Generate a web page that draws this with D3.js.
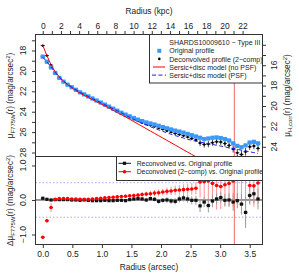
<!DOCTYPE html>
<html><head><meta charset="utf-8">
<script src="https://cdn.jsdelivr.net/npm/d3@7"></script>
<style>
body{margin:0;background:#fff}
svg{display:block}
text{font-family:"Liberation Sans",Arial,Helvetica,sans-serif;fill:#222}
</style>
</head><body>
<svg id="c" width="299" height="280"></svg>
<script>
// ---------------- data ----------------
const radius = [0.00,0.07,0.14,0.21,0.28,0.35,0.42,0.49,0.56,0.63,0.70,0.77,0.84,0.91,0.98,1.05,1.12,1.19,1.26,1.33,1.40,1.47,1.54,1.61,1.68,1.75,1.82,1.89,1.96,2.03,2.10,2.17,2.24,2.31,2.38,2.45,2.52,2.59,2.66,2.73,2.80,2.87,2.94,3.01,3.08,3.15,3.22,3.29,3.36,3.43,3.50,3.57,3.64];
const muOriginal = [18.60,19.10,19.65,20.20,20.68,21.05,21.35,21.60,21.85,22.10,22.30,22.50,22.70,22.90,23.10,23.30,23.50,23.70,23.90,24.10,24.28,24.45,24.62,24.78,24.92,25.05,25.15,25.25,25.38,25.50,25.62,25.74,25.85,25.95,26.05,26.18,26.30,26.43,26.55,26.68,26.62,26.55,26.52,26.58,26.68,26.82,27.10,27.35,27.48,27.30,27.02,26.95,27.10];
const errOriginal = [0.02,0.02,0.02,0.02,0.02,0.02,0.02,0.02,0.02,0.02,0.02,0.02,0.02,0.02,0.02,0.02,0.02,0.02,0.02,0.02,0.03,0.03,0.03,0.03,0.03,0.04,0.04,0.04,0.04,0.04,0.05,0.05,0.05,0.05,0.05,0.05,0.06,0.06,0.06,0.06,0.06,0.06,0.07,0.07,0.07,0.07,0.08,0.08,0.08,0.08,0.08,0.08,0.08];
const muDeconvolved = [17.52,18.50,19.43,20.22,20.72,21.09,21.39,21.63,21.88,22.12,22.32,22.52,22.73,22.94,23.15,23.36,23.57,23.78,23.99,24.20,24.39,24.57,24.75,24.92,25.08,25.22,25.33,25.45,25.59,25.73,25.87,26.00,26.13,26.24,26.35,26.49,26.62,26.77,27.07,27.21,27.17,27.03,26.94,26.97,27.12,27.30,27.65,28.03,28.20,27.92,27.44,27.36,27.59];
const errDeconvolved = [0.08,0.08,0.08,0.05,0.05,0.05,0.05,0.05,0.05,0.05,0.05,0.05,0.05,0.05,0.05,0.05,0.05,0.05,0.05,0.05,0.06,0.06,0.06,0.06,0.07,0.07,0.07,0.08,0.08,0.09,0.09,0.10,0.10,0.11,0.12,0.12,0.13,0.14,0.30,0.30,0.32,0.30,0.28,0.28,0.30,0.32,0.35,0.38,0.40,0.38,0.30,0.32,0.32];
const modelNoPSF = [17.50,18.50,19.40,20.10,20.60,21.00,21.35,21.65,21.92,22.17,22.40,22.61,22.82,23.02,23.22,23.43,23.64,23.86,24.08,24.30,24.52,24.74,24.97,25.20,25.43,25.66,25.89,26.12,26.35,26.58,26.81,27.04,27.27,27.50,27.73,27.96,28.19,28.42,28.65,28.88,29.11];
const modelPSF = [18.65,19.10,19.62,20.15,20.62,21.00,21.31,21.58,21.84,22.08,22.30,22.50,22.71,22.91,23.11,23.31,23.51,23.71,23.91,24.11,24.33,24.55,24.75,24.95,25.13,25.30,25.47,25.63,25.78,25.93,26.07,26.21,26.34,26.46,26.58,26.70,26.80,26.89,26.97,27.05,27.13,27.21,27.29,27.37,27.45,27.53,27.61,27.69,27.77,27.85,27.93,28.01,28.09];
const dReconvolved = [0.05,0.02,0.00,0.01,0.01,0.01,0.01,0.00,0.00,-0.01,0.00,-0.01,-0.02,-0.02,-0.02,-0.01,-0.02,-0.02,-0.01,-0.01,-0.02,0.01,0.03,0.04,0.03,0.00,0.04,0.02,-0.04,-0.01,0.00,-0.03,-0.04,0.03,0.06,0.03,-0.01,-0.01,-0.17,-0.06,-0.16,-0.03,0.03,0.07,-0.01,0.00,-0.06,-0.02,-0.12,-0.36,0.13,0.18,0.03];
const errReconvolved = [0.02,0.02,0.02,0.02,0.02,0.02,0.02,0.02,0.02,0.02,0.02,0.02,0.02,0.02,0.02,0.03,0.03,0.03,0.03,0.03,0.04,0.04,0.04,0.05,0.05,0.05,0.06,0.06,0.07,0.07,0.08,0.08,0.09,0.10,0.10,0.11,0.12,0.13,0.18,0.15,0.20,0.18,0.16,0.15,0.18,0.20,0.25,0.22,0.30,0.45,0.25,0.28,0.30];
const dDeconvolved = [-1.08,-0.60,-0.22,0.02,0.04,0.04,0.04,0.03,0.03,0.02,0.02,0.02,0.03,0.04,0.05,0.06,0.07,0.08,0.09,0.10,0.11,0.12,0.13,0.14,0.16,0.17,0.18,0.20,0.21,0.23,0.25,0.26,0.28,0.29,0.30,0.31,0.32,0.34,0.52,0.53,0.55,0.48,0.42,0.39,0.44,0.48,0.55,0.68,0.72,0.62,0.42,0.41,0.49];
const errDDeconvolved = [0.03,0.05,0.13,0.03,0.03,0.03,0.03,0.03,0.03,0.03,0.03,0.03,0.03,0.03,0.03,0.03,0.04,0.04,0.04,0.05,0.05,0.05,0.06,0.06,0.07,0.07,0.08,0.09,0.10,0.10,0.11,0.12,0.13,0.14,0.15,0.16,0.17,0.18,0.45,0.55,0.60,0.65,0.70,0.65,0.60,0.65,0.75,0.80,0.80,0.75,0.55,0.60,0.60];
const radiusErr = 0.035;
const markerRadius = 3.24;
const kpcPerArcsec = 6.51;
const hOffset = 3.44;

const kpcTicks = [0,1,2,3,4,5,6,7,8,9,10,11,12,13,14,15,16,17,18,19,20,21,22];
const kpcLabels = [0,2,4,6,8,10,12,14,16,18,20,22];
const muTicks = [17,18,19,20,21,22,23,24,25,26,27,28];
const muLabels = [18,20,22,24,26,28];
const muHTicks = [14,15,16,17,18,19,20,21,22,23,24];
const muHLabels = [16,18,20,22,24];
const arcTicks = [0,0.5,1,1.5,2,2.5,3,3.5];
const dTicks = [-1,0,1];
const legendTopTitle = "SHARDS10009610 \u2212 Type III";
const legendTop = ["Original profile","Deconvolved profile (2\u2212comp)","Sersic+disc model (no PSF)","Sersic+disc model (PSF)"];
const legendBottom = ["Reconvolved vs. Original profile","Deconvolved (2\u2212comp) vs. Original profile"];

// ---------------- layout ----------------
const L=35.5, R=262.5, T=34.5, M=156.5, B=244.5;
const svg = d3.select("#c");
const x = d3.scaleLinear().domain([-0.123,3.716]).range([L,R]);
const xk = d3.scaleLinear().domain([-0.123*kpcPerArcsec,3.716*kpcPerArcsec]).range([L,R]);
const yT = d3.scaleLinear().domain([16.43,28.39]).range([T,M]);
const yR = d3.scaleLinear().domain([16.43-hOffset,28.39-hOffset]).range([T,M]);
const yB = d3.scaleLinear().domain([-1.29,1.26]).range([B,M]);
const fmt1 = d => d.toFixed(1).replace("-","\u2212");

const defs = svg.append("defs");
defs.append("clipPath").attr("id","ct").append("rect").attr("x",L).attr("y",T).attr("width",R-L).attr("height",M-T);
defs.append("clipPath").attr("id","cb").append("rect").attr("x",L).attr("y",M).attr("width",R-L).attr("height",B-M);

const idx = d3.range(radius.length);
const BLUE = "#3a98f8", BLUE_ERR = "#93c8ff";

// ---------------- top panel ----------------
const gt = svg.append("g").attr("clip-path","url(#ct)");
gt.append("line").attr("x1",x(markerRadius)).attr("x2",x(markerRadius)).attr("y1",T).attr("y2",M)
  .attr("stroke","#f26a6a").attr("stroke-width",1);
// deconvolved (black)
gt.append("g").selectAll("line").data(idx).join("line")
  .attr("x1",i=>x(radius[i])).attr("x2",i=>x(radius[i]))
  .attr("y1",i=>yT(muDeconvolved[i]-errDeconvolved[i])).attr("y2",i=>yT(muDeconvolved[i]+errDeconvolved[i]))
  .attr("stroke","#111").attr("stroke-width",0.8);
gt.append("g").selectAll("line").data(idx).join("line")
  .attr("x1",i=>x(radius[i]-radiusErr)).attr("x2",i=>x(radius[i]+radiusErr))
  .attr("y1",i=>yT(muDeconvolved[i])).attr("y2",i=>yT(muDeconvolved[i]))
  .attr("stroke","#111").attr("stroke-width",0.8);
gt.append("g").selectAll("circle").data(idx).join("circle")
  .attr("cx",i=>x(radius[i])).attr("cy",i=>yT(muDeconvolved[i])).attr("r",1.2).attr("fill","#000");
// original (blue)
gt.append("g").selectAll("line").data(idx).join("line")
  .attr("x1",i=>x(radius[i]-radiusErr-0.01)).attr("x2",i=>x(radius[i]+radiusErr+0.01))
  .attr("y1",i=>yT(muOriginal[i])).attr("y2",i=>yT(muOriginal[i]))
  .attr("stroke",BLUE_ERR).attr("stroke-width",1.6);
gt.append("g").selectAll("line").data(idx).join("line")
  .attr("x1",i=>x(radius[i])).attr("x2",i=>x(radius[i]))
  .attr("y1",i=>yT(muOriginal[i]-errOriginal[i])).attr("y2",i=>yT(muOriginal[i]+errOriginal[i]))
  .attr("stroke",BLUE_ERR).attr("stroke-width",1);
gt.append("g").selectAll("rect").data(idx).join("rect")
  .attr("x",i=>x(radius[i])-2.1).attr("y",i=>yT(muOriginal[i])-2.1).attr("width",4.2).attr("height",4.2)
  .attr("fill",BLUE);
// models
const lineM = d3.line().x((d,i)=>x(radius[i])).y(d=>yT(d));
gt.append("path").attr("d",lineM(modelNoPSF)).attr("fill","none").attr("stroke","#ff0000").attr("stroke-width",1);
gt.append("path").attr("d",lineM(modelPSF)).attr("fill","none").attr("stroke","#1f1fee").attr("stroke-width",1)
  .attr("stroke-dasharray","4,2.5");

// top legend
const lg = svg.append("g");
lg.append("rect").attr("x",149.5).attr("y",T).attr("width",R-149.5).attr("height",83-T).attr("fill","#fff").attr("stroke","#333").attr("stroke-width",1);
const lgx = 169.3, lgy0 = 45.3, lgdy = 8.1, lgfs = 7.0;
lg.append("text").attr("x",lgx).attr("y",lgy0).attr("font-size",lgfs).text(legendTopTitle);
legendTop.forEach((t,i)=>{
  lg.append("text").attr("x",lgx).attr("y",lgy0+(i+1)*lgdy).attr("font-size",lgfs).text(t);
});
const sy = i => lgy0+(i+1)*lgdy-2.6;
lg.append("rect").attr("x",159.3-2).attr("y",sy(0)-2).attr("width",4).attr("height",4).attr("fill",BLUE);
lg.append("circle").attr("cx",159.3).attr("cy",sy(1)).attr("r",1.3).attr("fill","#000");
lg.append("line").attr("x1",153).attr("x2",165).attr("y1",sy(2)).attr("y2",sy(2)).attr("stroke","#ff0000");
lg.append("line").attr("x1",152).attr("x2",166).attr("y1",sy(3)).attr("y2",sy(3)).attr("stroke","#1f1fee").attr("stroke-dasharray","4,2.5");

// ---------------- bottom panel ----------------
const gb = svg.append("g").attr("clip-path","url(#cb)");
[-0.5,0.5].forEach(v=>{
  gb.append("line").attr("x1",L).attr("x2",R).attr("y1",yB(v)).attr("y2",yB(v))
    .attr("stroke","#a8a8ff").attr("stroke-dasharray","1.5,2").attr("stroke-width",1);
});
gb.append("line").attr("x1",L).attr("x2",R).attr("y1",yB(0)).attr("y2",yB(0)).attr("stroke","#333").attr("stroke-width",1);
gb.append("line").attr("x1",x(markerRadius)).attr("x2",x(markerRadius)).attr("y1",M).attr("y2",B)
  .attr("stroke","#f26a6a").attr("stroke-width",1);
gb.append("g").selectAll("line").data(idx).join("line")
  .attr("x1",i=>x(radius[i])).attr("x2",i=>x(radius[i]))
  .attr("y1",i=>yB(dDeconvolved[i]-errDDeconvolved[i])).attr("y2",i=>yB(dDeconvolved[i]+errDDeconvolved[i]))
  .attr("stroke","#ff9090").attr("stroke-width",1);
gb.append("g").selectAll("line").data(idx).join("line")
  .attr("x1",i=>x(radius[i])).attr("x2",i=>x(radius[i]))
  .attr("y1",i=>yB(dReconvolved[i]-errReconvolved[i])).attr("y2",i=>yB(dReconvolved[i]+errReconvolved[i]))
  .attr("stroke","#9a9a9a").attr("stroke-width",1);
gb.append("g").selectAll("line").data(idx).join("line")
  .attr("x1",i=>x(radius[i]-radiusErr)).attr("x2",i=>x(radius[i]+radiusErr))
  .attr("y1",i=>yB(dReconvolved[i])).attr("y2",i=>yB(dReconvolved[i]))
  .attr("stroke","#666").attr("stroke-width",0.8);
gb.append("g").selectAll("rect").data(idx).join("rect")
  .attr("x",i=>x(radius[i])-1.6).attr("y",i=>yB(dReconvolved[i])-1.6).attr("width",3.2).attr("height",3.2).attr("fill","#111");
gb.append("g").selectAll("line").data(idx).join("line")
  .attr("x1",i=>x(radius[i]-radiusErr)).attr("x2",i=>x(radius[i]+radiusErr))
  .attr("y1",i=>yB(dDeconvolved[i])).attr("y2",i=>yB(dDeconvolved[i]))
  .attr("stroke","#ff5050").attr("stroke-width",0.8);
gb.append("g").selectAll("circle").data(idx).join("circle")
  .attr("cx",i=>x(radius[i])).attr("cy",i=>yB(dDeconvolved[i])).attr("r",1.8).attr("fill","#ff0000");

// bottom legend
const lb = svg.append("g");
lb.append("rect").attr("x",116.5).attr("y",M).attr("width",R-116.5).attr("height",180.5-M).attr("fill","#fff").attr("stroke","#333").attr("stroke-width",1);
const lbx = 136.7, lby0 = 165.8, lbdy = 8.4, lbfs = 6.8;
legendBottom.forEach((t,i)=>{
  lb.append("text").attr("x",lbx).attr("y",lby0+i*lbdy).attr("font-size",lbfs).text(t);
});
const by = i => lby0+i*lbdy-2.5;
lb.append("line").attr("x1",118.5).attr("x2",131).attr("y1",by(0)).attr("y2",by(0)).attr("stroke","#111");
lb.append("rect").attr("x",124.5-1.6).attr("y",by(0)-1.6).attr("width",3.2).attr("height",3.2).attr("fill","#111");
lb.append("line").attr("x1",118.5).attr("x2",131).attr("y1",by(1)).attr("y2",by(1)).attr("stroke","#ff0000");
lb.append("circle").attr("cx",124.5).attr("cy",by(1)).attr("r",1.8).attr("fill","#ff0000");

// ---------------- boxes ----------------
svg.append("rect").attr("x",L).attr("y",T).attr("width",R-L).attr("height",M-T).attr("fill","none").attr("stroke","#333");
svg.append("rect").attr("x",L).attr("y",M).attr("width",R-L).attr("height",B-M).attr("fill","none").attr("stroke","#333");

// ---------------- axes ----------------
function styleAxis(g){
  g.select(".domain").remove();
  g.selectAll(".tick line").attr("stroke","#333");
  g.selectAll(".tick text").attr("fill","#222").attr("font-family",'"Liberation Sans",Arial,sans-serif');
}
svg.append("g").attr("transform",`translate(0,${T})`)
  .call(d3.axisTop(xk).tickValues(kpcTicks).tickSize(3.5).tickPadding(2.5)
    .tickFormat(d=>kpcLabels.includes(d)?String(d):""))
  .attr("font-size",8.5).call(styleAxis);
svg.append("g").attr("transform",`translate(0,${B})`)
  .call(d3.axisBottom(x).tickValues(arcTicks).tickSize(3.5).tickPadding(2.5).tickFormat(fmt1))
  .attr("font-size",8.5).call(styleAxis);
svg.append("g").attr("transform",`translate(${L},0)`)
  .call(d3.axisLeft(yT).tickValues(muTicks).tickSize(3.5).tickFormat(""))
  .call(styleAxis);
muLabels.forEach(v=>{
  svg.append("text").attr("transform",`translate(25.5,${yT(v)}) rotate(-90)`).attr("text-anchor","middle")
    .attr("font-size",8.5).text(v);
});
svg.append("g").attr("transform",`translate(${R},0)`)
  .call(d3.axisRight(yR).tickValues(muHTicks).tickSize(3.5).tickFormat(""))
  .call(styleAxis);
muHLabels.forEach(v=>{
  svg.append("text").attr("transform",`translate(276.5,${yR(v)}) rotate(-90)`).attr("text-anchor","middle")
    .attr("font-size",8.5).text(v);
});
svg.append("g").attr("transform",`translate(${L},0)`)
  .call(d3.axisLeft(yB).tickValues(dTicks).tickSize(3.5).tickFormat(""))
  .call(styleAxis);
dTicks.forEach(v=>{
  svg.append("text").attr("transform",`translate(25.5,${yB(v)}) rotate(-90)`).attr("text-anchor","middle")
    .attr("font-size",8.5).text(fmt1(v));
});

// ---------------- titles ----------------
svg.append("text").attr("x",(L+R)/2).attr("y",13.6).attr("text-anchor","middle").attr("font-size",8.4).text("Radius (kpc)");
svg.append("text").attr("x",(L+R)/2).attr("y",269.5).attr("text-anchor","middle").attr("font-size",8.4).text("Radius (arcsec)");

function muTitle(cx, cy, pre, sub){
  const t = svg.append("text").attr("transform",`translate(${cx},${cy}) rotate(-90)`).attr("text-anchor","middle").attr("font-size",8.2);
  t.append("tspan").text(pre);
  t.append("tspan").attr("font-size",6).attr("dy",1.6).text(sub);
  t.append("tspan").attr("dy",-1.6).text("(r) (mag/arcsec");
  t.append("tspan").attr("font-size",6).attr("dy",-3).text("2");
  t.append("tspan").attr("dy",3).text(")");
}
muTitle(13, (T+M)/2, "\u03bc", "F775W");
muTitle(13, (M+B)/2, "\u0394\u03bc", "F775W");
muTitle(290.3, (T+M)/2, "\u03bc", "H,corr");
</script>
</body></html>
